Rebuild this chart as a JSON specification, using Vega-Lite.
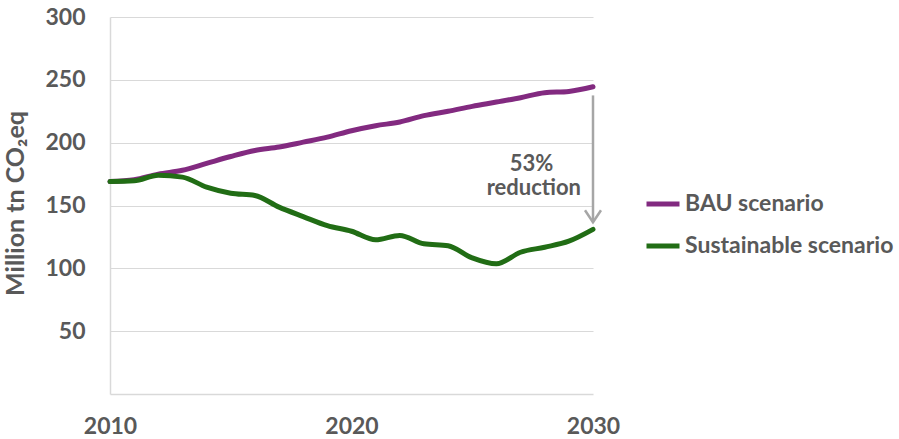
{
  "$schema": "https://vega.github.io/schema/vega-lite/v6.json",
  "width": 483,
  "height": 377,
  "autosize": "none",
  "padding": {"left": 110, "top": 17, "right": 306, "bottom": 45},
  "background": "white",
  "config": {
    "view": {"stroke": null},
    "font": "Lato",
    "axis": {
      "labelFont": "Lato",
      "labelFontWeight": "bold",
      "labelFontSize": 23,
      "labelColor": "#595959",
      "titleFont": "Lato",
      "titleFontWeight": "bold",
      "titleColor": "#595959",
      "domainColor": "#d9d9d9",
      "domainWidth": 1.5,
      "gridColor": "#d9d9d9",
      "gridWidth": 1,
      "ticks": false
    }
  },
  "datasets": {
    "emissions": [
      {"year": 2010, "scenario": "BAU scenario", "value": 169},
      {"year": 2011, "scenario": "BAU scenario", "value": 170.5},
      {"year": 2012, "scenario": "BAU scenario", "value": 175},
      {"year": 2013, "scenario": "BAU scenario", "value": 178},
      {"year": 2014, "scenario": "BAU scenario", "value": 183.5},
      {"year": 2015, "scenario": "BAU scenario", "value": 189},
      {"year": 2016, "scenario": "BAU scenario", "value": 193.8},
      {"year": 2017, "scenario": "BAU scenario", "value": 196.5},
      {"year": 2018, "scenario": "BAU scenario", "value": 200.4},
      {"year": 2019, "scenario": "BAU scenario", "value": 204.4},
      {"year": 2020, "scenario": "BAU scenario", "value": 209.5},
      {"year": 2021, "scenario": "BAU scenario", "value": 213.5},
      {"year": 2022, "scenario": "BAU scenario", "value": 216.4},
      {"year": 2023, "scenario": "BAU scenario", "value": 221.5},
      {"year": 2024, "scenario": "BAU scenario", "value": 225},
      {"year": 2025, "scenario": "BAU scenario", "value": 228.9},
      {"year": 2026, "scenario": "BAU scenario", "value": 232.3},
      {"year": 2027, "scenario": "BAU scenario", "value": 235.8},
      {"year": 2028, "scenario": "BAU scenario", "value": 239.8},
      {"year": 2029, "scenario": "BAU scenario", "value": 240.8},
      {"year": 2030, "scenario": "BAU scenario", "value": 244.5},
      {"year": 2010, "scenario": "Sustainable scenario", "value": 169},
      {"year": 2011, "scenario": "Sustainable scenario", "value": 169.6},
      {"year": 2012, "scenario": "Sustainable scenario", "value": 174},
      {"year": 2013, "scenario": "Sustainable scenario", "value": 172.6},
      {"year": 2014, "scenario": "Sustainable scenario", "value": 164.6},
      {"year": 2015, "scenario": "Sustainable scenario", "value": 159.8},
      {"year": 2016, "scenario": "Sustainable scenario", "value": 158},
      {"year": 2017, "scenario": "Sustainable scenario", "value": 148.7},
      {"year": 2018, "scenario": "Sustainable scenario", "value": 141.2},
      {"year": 2019, "scenario": "Sustainable scenario", "value": 134},
      {"year": 2020, "scenario": "Sustainable scenario", "value": 129.5},
      {"year": 2021, "scenario": "Sustainable scenario", "value": 122.7},
      {"year": 2022, "scenario": "Sustainable scenario", "value": 126.2},
      {"year": 2023, "scenario": "Sustainable scenario", "value": 119.5},
      {"year": 2024, "scenario": "Sustainable scenario", "value": 118},
      {"year": 2025, "scenario": "Sustainable scenario", "value": 108.3},
      {"year": 2026, "scenario": "Sustainable scenario", "value": 103.6},
      {"year": 2027, "scenario": "Sustainable scenario", "value": 112.8},
      {"year": 2028, "scenario": "Sustainable scenario", "value": 116.8},
      {"year": 2029, "scenario": "Sustainable scenario", "value": 121.6},
      {"year": 2030, "scenario": "Sustainable scenario", "value": 131}
    ],
    "arrow": [
      {"year": 2030, "from": 237.6, "to": 136.7}
    ],
    "note": [
      {"year": 2027.45, "value": 183.2, "label": "53%"},
      {"year": 2027.55, "value": 163.6, "label": "reduction"}
    ]
  },
  "layer": [
    {
      "data": {"name": "emissions"},
      "mark": {"type": "line", "interpolate": "monotone", "strokeWidth": 5, "strokeCap": "round"},
      "encoding": {
        "x": {
          "field": "year",
          "type": "quantitative",
          "scale": {"domain": [2010, 2030], "nice": false, "zero": false},
          "axis": {
            "values": [2010, 2020, 2030],
            "format": "d",
            "grid": false,
            "labelPadding": 21,
            "labelFlush": false,
            "title": null
          }
        },
        "y": {
          "field": "value",
          "type": "quantitative",
          "scale": {"domain": [0, 300], "nice": false},
          "axis": {
            "values": [50, 100, 150, 200, 250, 300],
            "grid": true,
            "labelPadding": 25,
            "title": "Million tn CO₂eq",
            "titleFontSize": 25,
            "titleAngle": -90,
            "titleX": -95,
            "titleY": 186,
            "titleAlign": "center",
            "titleBaseline": "middle"
          }
        },
        "color": {
          "field": "scenario",
          "type": "nominal",
          "scale": {
            "domain": ["BAU scenario", "Sustainable scenario"],
            "range": ["#822a80", "#216d15"]
          },
          "legend": {
            "title": null,
            "orient": "none",
            "legendX": 534,
            "legendY": 168,
            "padding": 0,
            "symbolType": "stroke",
            "symbolSize": 1089,
            "symbolStrokeWidth": 5,
            "labelFont": "Lato",
            "labelFontWeight": "bold",
            "labelFontSize": 23,
            "labelColor": "#595959",
            "labelOffset": 3,
            "labelLimit": 0,
            "rowPadding": 11
          }
        }
      }
    },
    {
      "data": {"name": "arrow"},
      "mark": {"type": "rule", "color": "#a6a6a6", "strokeWidth": 2.5},
      "encoding": {
        "x": {"field": "year", "type": "quantitative"},
        "y": {"field": "from", "type": "quantitative"},
        "y2": {"field": "to"}
      }
    },
    {
      "data": {"name": "arrow"},
      "mark": {
        "type": "point",
        "shape": "M-1,-1.5L0,0L1,-1.5",
        "size": 256,
        "filled": false,
        "stroke": "#a6a6a6",
        "strokeWidth": 2.5,
        "opacity": 1
      },
      "encoding": {
        "x": {"field": "year", "type": "quantitative"},
        "y": {"field": "to", "type": "quantitative"}
      }
    },
    {
      "data": {"name": "note"},
      "mark": {
        "type": "text",
        "font": "Lato",
        "fontWeight": "bold",
        "fontSize": 22,
        "color": "#595959",
        "align": "center",
        "baseline": "middle"
      },
      "encoding": {
        "x": {"field": "year", "type": "quantitative"},
        "y": {"field": "value", "type": "quantitative"},
        "text": {"field": "label"}
      }
    }
  ]
}
